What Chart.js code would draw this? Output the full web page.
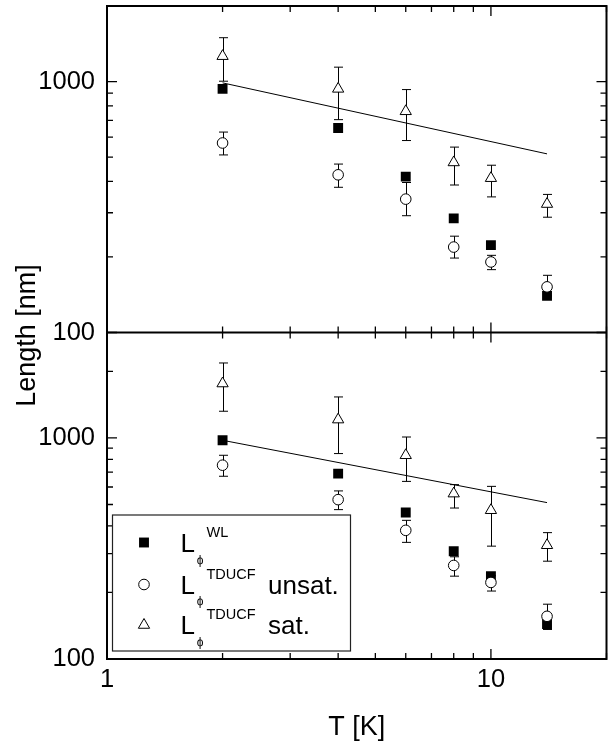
<!DOCTYPE html>
<html><head><meta charset="utf-8">
<script src="https://cdn.jsdelivr.net/npm/chart.js@4.4.0/dist/chart.umd.min.js"></script>
<style>html,body{margin:0;padding:0;background:#fff}canvas{display:block}</style>
</head><body>
<canvas id="c" width="608" height="744"></canvas>
<script>
// ---- data ----
const T = [2, 4, 6, 8, 10, 14];
// upper panel
const wlTop = [935, 653, 418, 285, 223, 140];
const unsatTop = [569, 425, 340, 219, 191, 152];
const unsatTopLo = [510, 379, 292, 198, 178, 140];
const unsatTopHi = [629, 469, 396, 242, 203, 169];
const satTop = [1262, 935, 761, 476, 412, 325];
const satTopLo = [1003, 705, 582, 387, 347, 288];
const satTopHi = [1495, 1141, 929, 548, 464, 355];
// lower panel
const wlBot = [976, 690, 460, 307, 237, 144];
const unsatBot = [753, 526, 382, 265, 222, 156];
const unsatBotLo = [671, 474, 337, 237, 203, 136];
const unsatBotHi = [835, 576, 424, 290, 238, 177];
const satBot = [1763, 1211, 835, 560, 471, 327];
const satBotLo = [1321, 850, 636, 482, 324, 277];
const satBotHi = [2184, 1533, 1010, 615, 604, 373];
// fit lines
const fitT = [2, 14];
const fitTop = [988, 515];
const fitBot = [976, 510];
// ticks
const xTickValues = [1, 2, 3, 4, 5, 6, 7, 8, 9, 10, 20];
const xTickLabels = ['1', '', '', '', '', '', '', '', '', '10', ''];
const yTopTickValues = [100, 200, 300, 400, 500, 600, 700, 800, 900, 1000, 2000];
const yBotTickValues = [100, 200, 300, 400, 500, 600, 700, 800, 900, 1000, 2000, 3000];
const yLabeled = [100, 1000];
const majorValues = [1, 10, 100, 1000];
const xTitle = 'T [K]';
const yTitle = 'Length [nm]';
const legendRows = [
  {sup: 'WL', tail: ''},
  {sup: 'TDUCF', tail: 'unsat.'},
  {sup: 'TDUCF', tail: 'sat.'}
];

const FONT = 'Liberation Sans, Arial, Helvetica, sans-serif';
Chart.defaults.font.family = FONT;
Chart.defaults.color = '#000';

const pts = (xs, ys) => xs.map((x, i) => ({x: x, y: ys[i]}));

const sq = {pointStyle: 'rect', pointRadius: 7, backgroundColor: '#000', borderColor: '#000', borderWidth: 0, showLine: false};
const ci = {pointStyle: 'circle', pointRadius: 5.3, backgroundColor: '#fff', borderColor: '#000', borderWidth: 1, showLine: false};
const tr = {pointStyle: 'triangle', pointRadius: 6.5, backgroundColor: '#fff', borderColor: '#000', borderWidth: 1, showLine: false};
const fit = {showLine: true, pointRadius: 0, borderColor: '#000', borderWidth: 1, backgroundColor: '#000'};

const datasets = [
  Object.assign({label: 'fitTop', data: pts(fitT, fitTop), yAxisID: 'yTop'}, fit),
  Object.assign({label: 'satTop', data: pts(T, satTop), yAxisID: 'yTop', errLo: satTopLo, errHi: satTopHi}, tr),
  Object.assign({label: 'unsatTop', data: pts(T, unsatTop), yAxisID: 'yTop', errLo: unsatTopLo, errHi: unsatTopHi}, ci),
  Object.assign({label: 'wlTop', data: pts(T, wlTop), yAxisID: 'yTop'}, sq),
  Object.assign({label: 'fitBot', data: pts(fitT, fitBot), yAxisID: 'yBot'}, fit),
  Object.assign({label: 'satBot', data: pts(T, satBot), yAxisID: 'yBot', errLo: satBotLo, errHi: satBotHi}, tr),
  Object.assign({label: 'unsatBot', data: pts(T, unsatBot), yAxisID: 'yBot', errLo: unsatBotLo, errHi: unsatBotHi}, ci),
  Object.assign({label: 'wlBot', data: pts(T, wlBot), yAxisID: 'yBot'}, sq)
];

function zeroPad(s) { s.paddingLeft = 0; s.paddingRight = 0; s.paddingTop = 0; s.paddingBottom = 0; }

const yScale = (vals) => ({
  type: 'logarithmic', min: vals[0], max: vals[vals.length - 1],
  position: 'left', stack: 'panels', stackWeight: 1,
  grid: {display: false, drawTicks: false}, border: {display: false},
  afterBuildTicks: s => { s.ticks = vals.map(v => ({value: v, major: majorValues.includes(v)})); },
  afterFit: s => { s.width = 107; zeroPad(s); },
  ticks: {autoSkip: false, padding: 12, color: '#000', font: {size: 25.5},
    callback: v => yLabeled.includes(v) ? String(v) : ''}
});

const errorBars = {
  id: 'errorBars',
  beforeDatasetsDraw(chart) {
    const ctx = chart.ctx, xs = chart.scales.x;
    ctx.save();
    ctx.strokeStyle = '#000'; ctx.lineWidth = 1;
    chart.data.datasets.forEach(ds => {
      if (!ds.errLo) return;
      const ys = chart.scales[ds.yAxisID];
      ds.data.forEach((p, j) => {
        const px = Math.round(xs.getPixelForValue(p.x)) + 0.5;
        const lo = ys.getPixelForValue(ds.errLo[j]);
        const hi = ys.getPixelForValue(ds.errHi[j]);
        ctx.beginPath();
        ctx.moveTo(px, lo); ctx.lineTo(px, hi);
        ctx.moveTo(px - 4.5, lo); ctx.lineTo(px + 4.5, lo);
        ctx.moveTo(px - 4.5, hi); ctx.lineTo(px + 4.5, hi);
        ctx.stroke();
      });
    });
    ctx.restore();
  }
};

const frameTicks = {
  id: 'frameTicks',
  afterDatasetsDraw(chart) {
    const ctx = chart.ctx, a = chart.chartArea;
    const xs = chart.scales.x, yt = chart.scales.yTop, yb = chart.scales.yBot;
    const mid = yt.bottom;
    ctx.save();
    ctx.strokeStyle = '#000';
    ctx.lineWidth = 1.3;
    ctx.beginPath();
    xs.ticks.forEach(t => {
      const px = xs.getPixelForValue(t.value);
      const L = majorValues.includes(t.value) ? 10 : 6;
      ctx.moveTo(px, a.top); ctx.lineTo(px, a.top + L);
      ctx.moveTo(px, a.bottom); ctx.lineTo(px, a.bottom - L);
      ctx.moveTo(px, mid - L); ctx.lineTo(px, mid + L);
    });
    [yt, yb].forEach(s => s.ticks.forEach(t => {
      const py = s.getPixelForValue(t.value);
      const L = majorValues.includes(t.value) ? 10 : 6;
      ctx.moveTo(a.left, py); ctx.lineTo(a.left + L, py);
      ctx.moveTo(a.right, py); ctx.lineTo(a.right - L, py);
    }));
    ctx.stroke();
    ctx.lineWidth = 2;
    ctx.strokeRect(a.left, a.top, a.right - a.left, a.bottom - a.top);
    ctx.beginPath(); ctx.moveTo(a.left, mid); ctx.lineTo(a.right, mid); ctx.stroke();
    ctx.restore();
  },
  afterDraw(chart) {
    const ctx = chart.ctx, a = chart.chartArea;
    ctx.save();
    // y title
    ctx.fillStyle = '#000';
    ctx.font = '27px ' + FONT;
    ctx.translate(35, (a.top + a.bottom) / 2 + 3);
    ctx.rotate(-Math.PI / 2);
    ctx.textAlign = 'center'; ctx.textBaseline = 'alphabetic';
    ctx.fillText(yTitle, 0, 0);
    ctx.restore();

    // legend
    ctx.save();
    const bx = a.left + 5.5, bw = 238, by = a.bottom - 144, bh = 136;
    ctx.fillStyle = '#fff';
    ctx.fillRect(bx, by, bw, bh);
    ctx.strokeStyle = '#222'; ctx.lineWidth = 1.2;
    ctx.strokeRect(bx, by, bw, bh);
    const sets = [chart.data.datasets[3], chart.data.datasets[2], chart.data.datasets[1]];
    const rowBase = [by + 37, by + 78.5, by + 119];
    const markerY = [by + 27.5, by + 69.5, by + 110];
    sets.forEach((ds, i) => {
      ctx.fillStyle = ds.backgroundColor; ctx.strokeStyle = ds.borderColor;
      ctx.lineWidth = ds.borderWidth;
      Chart.helpers.drawPoint(ctx, {pointStyle: ds.pointStyle, radius: ds.pointRadius, rotation: 0, borderWidth: ds.borderWidth}, bx + 31.5, markerY[i]);
      const r = legendRows[i];
      ctx.fillStyle = '#000';
      ctx.textAlign = 'left'; ctx.textBaseline = 'alphabetic';
      ctx.font = '26px ' + FONT;
      ctx.fillText('L', bx + 68, rowBase[i]);
      ctx.font = '14.5px ' + FONT;
      ctx.fillText(r.sup, bx + 94, rowBase[i] - 15);
      ctx.font = '12px ' + FONT;
      ctx.textAlign = 'center';
      ctx.fillText('\u03D5', bx + 87.5, rowBase[i] + 11.5);
      if (r.tail) {
        ctx.textAlign = 'left';
        ctx.font = '26px ' + FONT;
        ctx.fillText(r.tail, bx + 155.5, rowBase[i]);
      }
    });
    ctx.restore();
  }
};

new Chart(document.getElementById('c'), {
  type: 'scatter',
  data: {datasets: datasets},
  options: {
    responsive: false, animation: false, devicePixelRatio: 1,
    events: [],
    layout: {autoPadding: false, padding: {top: 6, right: 1.5, bottom: 0, left: 0}},
    plugins: {legend: {display: false}, tooltip: {enabled: false}},
    scales: {
      x: {
        type: 'logarithmic', min: 1, max: 20, position: 'bottom',
        grid: {display: false, drawTicks: false}, border: {display: false},
        afterBuildTicks: s => { s.ticks = xTickValues.map(v => ({value: v, major: majorValues.includes(v)})); },
        afterFit: s => { s.height = 85; zeroPad(s); },
        ticks: {autoSkip: false, maxRotation: 0, padding: 5.4, color: '#000', font: {size: 25.5},
          callback: (v, i) => xTickLabels[xTickValues.indexOf(v)] || ''},
        title: {display: true, text: xTitle, color: '#000', font: {size: 27}, padding: {top: 0, bottom: 0.5}}
      },
      yBot: yScale(yBotTickValues),
      yTop: yScale(yTopTickValues)
    }
  },
  plugins: [errorBars, frameTicks]
});
</script>
</body></html>
